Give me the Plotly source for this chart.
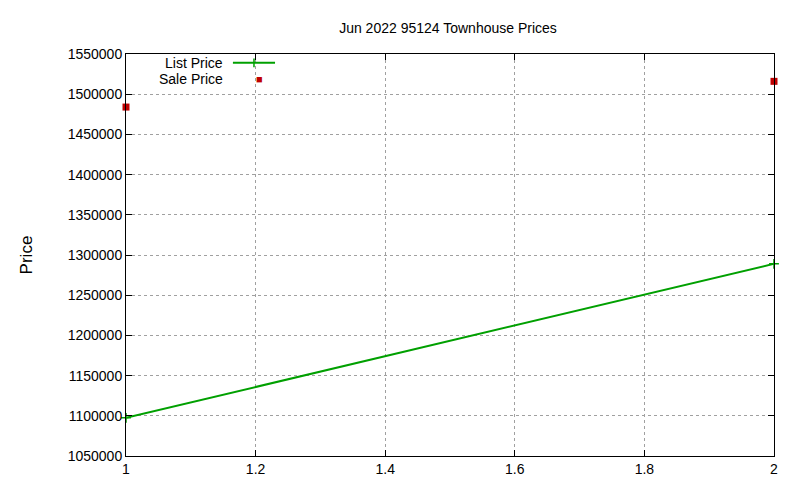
import plotly.graph_objects as go

x_list = [1, 2]
list_price = [1097500, 1289000]
x_sale = [1, 2]
sale_price = [1484000, 1516000]
x_ticks = [1, 1.2, 1.4, 1.6, 1.8, 2]
y_ticks = list(range(1050000, 1550001, 50000))

fig = go.Figure()
fig.add_trace(go.Scatter(x=x_list, y=list_price, mode="lines+markers", name="List Price",
                         line=dict(color="#00a000", width=2),
                         marker=dict(symbol="cross-thin", size=7, line=dict(color="#00a000", width=1.5)),
                         cliponaxis=False))
fig.add_trace(go.Scatter(x=x_sale, y=sale_price, mode="markers", name="Sale Price",
                         marker=dict(symbol="square", size=7, color="#c00000"), cliponaxis=False))

font = dict(family="Liberation Sans, Arial", size=14, color="black")
fig.update_layout(
    width=800, height=480, plot_bgcolor="white", paper_bgcolor="white",
    margin=dict(l=118, r=34, t=46, b=32, autoexpand=False), showlegend=False, font=font,
    title=dict(text="Jun 2022 95124 Townhouse Prices", x=0.55, xanchor="center",
               yref="container", y=0.958, yanchor="middle", font=dict(size=14)),
)
axis_common = dict(showline=True, linecolor="black", linewidth=1, mirror="ticks", ticks="inside",
                   ticklen=6, tickcolor="black", showgrid=True, gridcolor="#a0a0a0",
                   griddash="dot", gridwidth=1, zeroline=False, automargin=False)
fig.update_xaxes(range=[1, 2], tickvals=x_ticks, ticktext=["1", "1.2", "1.4", "1.6", "1.8", "2"], **axis_common)
fig.update_yaxes(range=[1050000, 1550000], tickvals=y_ticks, ticktext=[str(v) for v in y_ticks],
                 title=dict(text="Price", standoff=30), **axis_common)

# legend, gnuplot style
fig.add_annotation(xref="paper", yref="paper", x=0.153, y=0.978, text="List Price", showarrow=False,
                   xanchor="right", yanchor="middle", font=font)
fig.add_annotation(xref="paper", yref="paper", x=0.153, y=0.938, text="Sale Price", showarrow=False,
                   xanchor="right", yanchor="middle", font=font)
fig.add_shape(type="line", xref="paper", yref="paper", x0=0.165, x1=0.23, y0=0.978, y1=0.978,
              line=dict(color="#00a000", width=2))
fig.add_shape(type="line", xref="paper", yref="paper", x0=0.1975, x1=0.1975, y0=0.967, y1=0.989,
              line=dict(color="#00a000", width=1.5))
fig.add_annotation(xref="paper", yref="paper", x=0.1975, y=0.938, text="■", showarrow=False,
                   yanchor="middle", font=dict(size=11, color="#c00000"))

fig.write_html("out.html")
